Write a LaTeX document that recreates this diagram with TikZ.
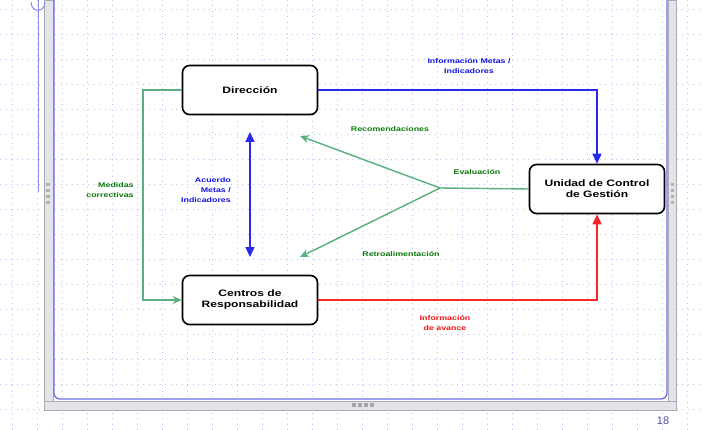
\documentclass[tikz,border=0pt]{standalone}
\usepackage{fontspec}
\setmainfont{Liberation Sans}
\newfontfamily\widefont[FakeStretch=1.3]{Liberation Sans}
\usetikzlibrary{arrows.meta}

\definecolor{gridblue}{RGB}{185,195,245}
\definecolor{lineblue}{RGB}{40,40,235}
\definecolor{linered}{RGB}{245,40,40}
\definecolor{linegreen}{RGB}{90,175,130}
\definecolor{txtgreen}{RGB}{10,120,10}
\definecolor{txtblue}{RGB}{20,20,220}
\definecolor{txtred}{RGB}{240,20,20}
\definecolor{framegray}{RGB}{228,228,232}
\definecolor{frameedge}{RGB}{170,170,180}
\definecolor{frameblue}{RGB}{110,110,235}

\tikzset{
  box/.style={draw=black, line width=1.6pt, rounded corners=7pt, fill=white,
    minimum width=135pt, minimum height=49pt, align=center,
    font=\widefont\bfseries\fontsize{9.3}{11}\selectfont},
  lbl/.style={align=center, font=\widefont\bfseries\fontsize{6.8}{10}\selectfont},
  gridline/.style={gridblue, line width=0.9pt, dash pattern=on 1pt off 4.5pt},
  bluelink/.style={draw=lineblue, line width=1.4pt},
  redlink/.style={draw=linered, line width=1.4pt},
  greenlink/.style={draw=linegreen, line width=1.4pt},
  bighead/.style={-{Triangle[length=10pt,width=9pt]}},
  greenhead/.style={-{Stealth[length=9pt,width=8pt]}},
}

\begin{document}
\begin{tikzpicture}[x=1pt,y=-1pt]
  \useasboundingbox (0,0) rectangle (703,430);
  \fill[white] (0,0) rectangle (703,430);

  % dotted layout grid
  \foreach \gx in {12,37,...,712}
    \draw[gridline] (\gx,0) -- (\gx,430);
  \foreach \gy in {9,34,...,430}
    \draw[gridline] (0,\gy) -- (703,\gy);

  % slide frame with scroll bars
  \filldraw[fill=framegray, draw=frameedge, line width=0.6pt] (44,0) rectangle (53,410);
  \filldraw[fill=framegray, draw=frameedge, line width=0.6pt] (668,0) rectangle (676,410);
  \filldraw[fill=framegray, draw=frameedge, line width=0.6pt] (44,401) rectangle (676,410);
  \foreach \hy in {183,189,195,201}
    \fill[gray!60] (46,\hy) rectangle (50,\hy+3);
  \foreach \hy in {183,189,195,201}
    \fill[gray!60] (671,\hy) rectangle (674,\hy+3);
  \foreach \hx in {352,358,364,370}
    \fill[gray!70] (\hx,403) rectangle (\hx+4,407);
  \draw[frameblue, line width=1.3pt, rounded corners=6pt] (54,0) -- (54,399) -- (667,399) -- (667,0);
  \draw[frameblue!80, line width=1pt] (38,0) -- (38,192);
  \draw[frameblue!80, line width=1pt] (31,2) .. controls (31,13) and (45,13) .. (45,2);
  \node[font=\fontsize{11}{12}\selectfont, text=frameblue!70!black] (pagenum) at (663,421) {18};

  % organisational units
  \node[box] (dir) at (250,90) {Dirección};
  \node[box] (cr) at (250,300) {Centros de\\Responsabilidad};
  \node[box] (ucg) at (597,189) {Unidad de Control\\de Gestión};

  % free ends of connectors
  \coordinate (ev) at (440,188);
  \coordinate (rec) at (300,136);
  \coordinate (ret) at (300,257);
  \coordinate (agtop) at (250,132);
  \coordinate (agbot) at (250,257);
  \coordinate (mcbend) at (143,90);

  % information flows
  \draw[bluelink, bighead] (dir.east) -| (ucg.north);
  \draw[redlink, bighead] (cr.east) -| (ucg.south);
  \draw[bluelink, {Triangle[length=10pt,width=9pt]}-{Triangle[length=10pt,width=9pt]}] (agtop) -- (agbot);
  \draw[greenlink, greenhead] (dir.west) -- (mcbend) |- (cr.west);
  \draw[greenlink] (ucg.west) -- (ev);
  \draw[greenlink, greenhead] (ev) -- (rec);
  \draw[greenlink, greenhead] (ev) -- (ret);

  % flow labels
  \node[lbl, text=txtblue] (l1) at (469,66) {Información Metas /\\Indicadores};
  \node[lbl, text=txtgreen] (l2) at (390,129) {Recomendaciones};
  \node[lbl, text=txtgreen] (l3) at (477,172) {Evaluación};
  \node[lbl, text=txtgreen] (l4) at (401,254) {Retroalimentación};
  \node[lbl, text=txtgreen, align=right] (l5) at (110,190) {Medidas\\correctivas};
  \node[lbl, text=txtblue, align=right] (l6) at (206,190) {Acuerdo\\Metas /\\Indicadores};
  \node[lbl, text=txtred] (l7) at (445,323) {Información\\de avance};
\end{tikzpicture}
\end{document}
